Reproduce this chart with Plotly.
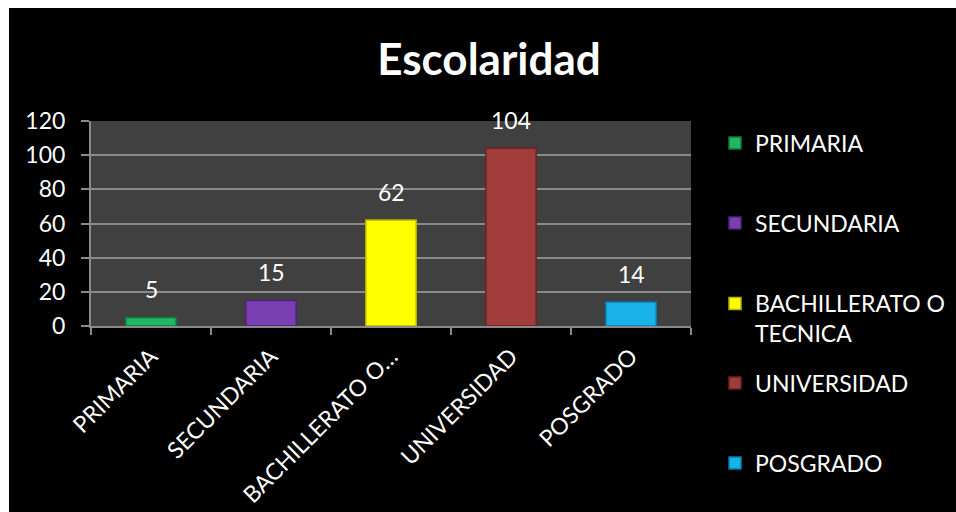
import plotly.graph_objects as go

# Escolaridad: number of people per education level
categories = ["PRIMARIA", "SECUNDARIA", "BACHILLERATO O TECNICA", "UNIVERSIDAD", "POSGRADO"]
values = [5, 15, 62, 104, 14]
tick_labels = ["PRIMARIA", "SECUNDARIA", "BACHILLERATO O…", "UNIVERSIDAD", "POSGRADO"]
legend_names = ["PRIMARIA", "SECUNDARIA", "BACHILLERATO O<br>TECNICA", "UNIVERSIDAD", "POSGRADO"]
bar_colors = ["#22b562", "#7a40b3", "#ffff00", "#a03d3b", "#19b3ea"]
edge_colors = ["#0d7a3c", "#4d2277", "#b3b300", "#6b2220", "#0a7aa8"]

W, H = 956, 512
ML, MR, MT, MB = 91, 265, 121, 186
PW, PH = W - ML - MR, H - MT - MB

def px_x(x):
    return (x - ML) / PW

def px_y(y):
    return (H - MB - y) / PH

FONT = "Lato"
WHITE = "#ffffff"
GRID = "#8a8a8a"

fig = go.Figure()
legend_ids = ["legend", "legend2", "legend3", "legend4", "legend5"]
for cat, val, name, col, edge, lid in zip(categories, values, legend_names,
                                           bar_colors, edge_colors, legend_ids):
    fig.add_trace(go.Bar(
        x=[cat], y=[val], name=name, width=0.42,
        marker=dict(color=col, line=dict(color=edge, width=1.5)),
        legend=lid, hoverinfo="x+y",
    ))
    fig.add_annotation(
        x=cat, y=val, text=str(val), showarrow=False,
        xanchor="center", yanchor="bottom", yshift=12,
        font=dict(family=FONT, size=23, color=WHITE),
    )

# one legend box per entry so the entries sit at even spacing
legend_y_px = [143, 223, 303, 383, 463]
legend_common = dict(
    x=px_x(715), xanchor="left", bgcolor="rgba(0,0,0,0)",
    font=dict(family=FONT, size=23, color=WHITE),
    itemwidth=30,
)
for i, (lid, ypx) in enumerate(zip(legend_ids, legend_y_px)):
    cfg = dict(legend_common)
    if i == 2:
        cfg.update(y=px_y(ypx - 21), yanchor="top", valign="top")
    else:
        cfg.update(y=px_y(ypx), yanchor="middle")
    fig.update_layout(**{lid: cfg})

# white strips along the top and left edges of the black canvas
fig.add_shape(type="rect", xref="paper", yref="paper",
              x0=px_x(-5), x1=px_x(9), y0=px_y(H + 5), y1=px_y(-5),
              fillcolor=WHITE, line_width=0, layer="below")
fig.add_shape(type="rect", xref="paper", yref="paper",
              x0=px_x(-5), x1=px_x(W + 5), y0=px_y(8), y1=px_y(-5),
              fillcolor=WHITE, line_width=0, layer="below")

fig.update_layout(
    width=W, height=H,
    margin=dict(l=ML, r=MR, t=MT, b=MB, autoexpand=False),
    paper_bgcolor="#000000",
    plot_bgcolor="#404040",
    barmode="overlay",
    showlegend=True,
    title=dict(
        text="<b>Escolaridad</b>", xref="container", x=489 / W, xanchor="center",
        yref="container", y=1 - 60 / H, yanchor="middle",
        font=dict(family=FONT, size=44, color=WHITE),
    ),
    xaxis=dict(
        type="category", categoryorder="array", categoryarray=categories,
        tickmode="array", tickvals=categories, ticktext=tick_labels,
        tickangle=-45, tickson="boundaries",
        ticks="outside", ticklen=7, tickwidth=2, tickcolor=GRID,
        showline=True, linecolor=GRID, linewidth=2,
        showgrid=False, ticklabelstandoff=6,
        tickfont=dict(family=FONT, size=23, color=WHITE),
    ),
    yaxis=dict(
        range=[0, 120], dtick=20, tick0=0,
        showgrid=True, gridcolor=GRID, gridwidth=2,
        ticks="outside", ticklen=8, tickwidth=2, tickcolor=GRID,
        showline=True, linecolor=GRID, linewidth=2, zeroline=False,
        ticklabelstandoff=11,
        tickfont=dict(family=FONT, size=23, color=WHITE),
    ),
)

fig.write_html("out.html")
